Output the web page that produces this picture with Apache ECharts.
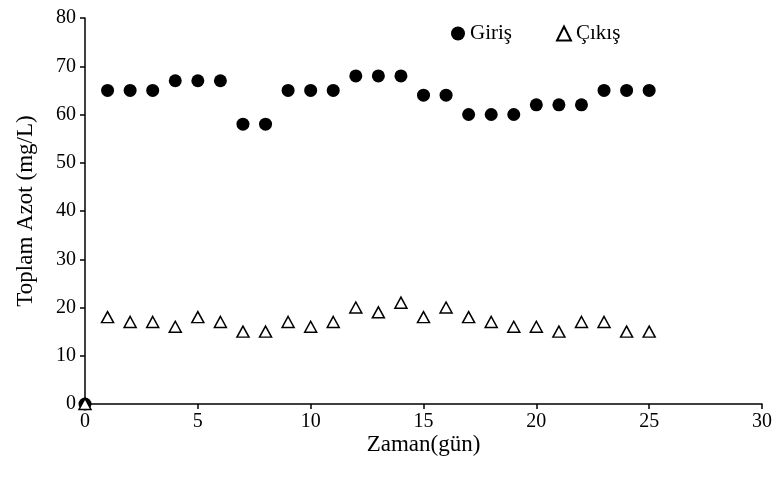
<!DOCTYPE html>
<html>
<head>
<meta charset="utf-8">
<script src="https://cdn.jsdelivr.net/npm/echarts@6/dist/echarts.min.js"></script>
<style>
  html, body { margin: 0; padding: 0; background: #fff; }
  #chart { width: 776px; height: 479px; }
</style>
</head>
<body>
<div id="chart"></div>
<script>
// days
const days = [0, 1, 2, 3, 4, 5, 6, 7, 8, 9, 10, 11, 12, 13, 14, 15, 16, 17, 18, 19, 20, 21, 22, 23, 24, 25]
// Giriş (inlet) total nitrogen, mg/L
const girisValues = [0, 65, 65, 65, 67, 67, 67, 58, 58, 65, 65, 65, 68, 68, 68, 64, 64, 60, 60, 60, 62, 62, 62, 65, 65, 65]
// Çıkış (outlet) total nitrogen, mg/L
const cikisValues = [0, 18, 17, 17, 16, 18, 17, 15, 15, 17, 16, 17, 20, 19, 21, 18, 20, 18, 17, 16, 16, 15, 17, 17, 15, 15]

const font = 'Liberation Serif, Times New Roman, serif'

function pairs(xs, ys) {
  return xs.map((x, i) => [x, ys[i]])
}

const chartOptions = {
  backgroundColor: '#fff',
  animation: false,
  textStyle: { fontFamily: font, color: '#000' },
  grid: { left: 85, right: 14, top: 18, bottom: 75 },
  legend: {
    top: 18,
    left: 446,
    itemGap: 44,
    itemWidth: 14,
    itemHeight: 14,
    textStyle: { fontFamily: font, fontSize: 21, color: '#000' },
    data: [
      { name: 'Giriş', icon: 'circle' },
      { name: 'Çıkış', icon: 'triangle' }
    ]
  },
  xAxis: {
    type: 'value',
    min: 0,
    max: 30,
    interval: 5,
    name: 'Zaman(gün)',
    nameLocation: 'middle',
    nameGap: 29,
    nameMoveOverlap: false,
    nameTextStyle: { fontFamily: font, fontSize: 23, color: '#000' },
    axisLine: { lineStyle: { color: '#000', width: 1.5 } },
    axisTick: { show: true, inside: false, length: 5, lineStyle: { color: '#000', width: 1.5 } },
    axisLabel: { fontFamily: font, fontSize: 20, color: '#000', margin: 8 },
    splitLine: { show: false }
  },
  yAxis: {
    type: 'value',
    min: 0,
    max: 80,
    interval: 10,
    name: 'Toplam Azot (mg/L)',
    nameLocation: 'middle',
    nameGap: 48,
    nameMoveOverlap: false,
    nameTextStyle: { fontFamily: font, fontSize: 23, color: '#000' },
    axisLine: { show: true, lineStyle: { color: '#000', width: 1.5 } },
    axisTick: { show: true, inside: false, length: 5, lineStyle: { color: '#000', width: 1.5 } },
    axisLabel: { fontFamily: font, fontSize: 20, color: '#000', margin: 9 },
    splitLine: { show: false }
  },
  series: [
    {
      name: 'Giriş',
      type: 'scatter',
      symbol: 'circle',
      symbolSize: 13,
      itemStyle: { color: '#000', opacity: 1 },
      data: pairs(days, girisValues)
    },
    {
      name: 'Çıkış',
      type: 'scatter',
      symbol: 'triangle',
      symbolSize: [12, 11],
      itemStyle: { color: '#fff', borderColor: '#000', borderWidth: 1.5, opacity: 1 },
      data: pairs(days, cikisValues)
    }
  ]
}

let elm = document.getElementById('chart')
let myChart = echarts.init(elm)
myChart.setOption(chartOptions)
</script>
</body>
</html>
